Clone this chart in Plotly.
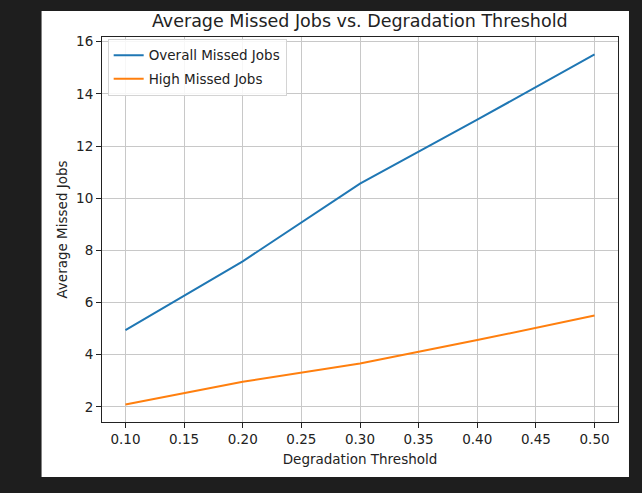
import plotly.graph_objects as go

thresholds = [0.10, 0.20, 0.30, 0.40, 0.50]
overall_missed = [4.94, 7.58, 10.56, 13.01, 15.51]
high_missed = [2.09, 2.96, 3.66, 4.56, 5.50]
x_ticks = [0.10, 0.15, 0.20, 0.25, 0.30, 0.35, 0.40, 0.45, 0.50]
x_tick_labels = ["0.10", "0.15", "0.20", "0.25", "0.30", "0.35", "0.40", "0.45", "0.50"]
y_ticks = [2, 4, 6, 8, 10, 12, 14, 16]

W, H = 642, 493
L, R, T, B = 101.5, 618, 37, 422
pw, ph = R - L, B - T

fig = go.Figure()
fig.add_trace(go.Scatter(x=thresholds, y=overall_missed, mode="lines",
                         name="Overall Missed Jobs", legendgroup="a",
                         line=dict(color="#1f77b4", width=2)))
fig.add_trace(go.Scatter(x=thresholds, y=high_missed, mode="lines",
                         name="High Missed Jobs", legendgroup="b",
                         line=dict(color="#ff7f0e", width=2)))

font = "DejaVu Sans"
fig.update_layout(
    width=W, height=H,
    margin=dict(l=L, r=W - R, t=T, b=H - B, pad=0),
    paper_bgcolor="#1e1e1e",
    plot_bgcolor="white",
    font=dict(family=font, size=13.5, color="#222222"),
    title=dict(text="Average Missed Jobs vs. Degradation Threshold",
               x=(L + R) / 2 / W, xanchor="center",
               y=1 - 21 / H, yanchor="middle",
               font=dict(family=font, size=17.5, color="#222222")),
    showlegend=True,
    legend=dict(x=0.011, y=0.995, xanchor="left", yanchor="top",
                bgcolor="rgba(255,255,255,0.85)", bordercolor="#d4d4d4",
                borderwidth=1, font=dict(family=font, size=13.5, color="#222222"),
                tracegroupgap=3, entrywidth=145),
    shapes=[dict(type="rect", xref="paper", yref="paper", layer="below",
                 x0=(41 - L) / pw, x1=(629 - L) / pw,
                 y0=(B - 477) / ph, y1=(B - 11) / ph,
                 fillcolor="white", line=dict(width=0))],
)
fig.update_xaxes(range=[0.08, 0.52], tickvals=x_ticks, ticktext=x_tick_labels,
                 showgrid=True, gridcolor="#c8c8c8", gridwidth=1,
                 showline=True, linecolor="#222222", linewidth=1, mirror=True,
                 ticks="outside", ticklen=5, tickcolor="#222222",
                 zeroline=False,
                 title=dict(text="Degradation Threshold", standoff=8,
                            font=dict(family=font, size=13.5, color="#222222")))
fig.update_yaxes(range=[1.42, 16.18], tickvals=y_ticks,
                 showgrid=True, gridcolor="#c8c8c8", gridwidth=1,
                 showline=True, linecolor="#222222", linewidth=1, mirror=True,
                 ticks="outside", ticklen=5, tickcolor="#222222",
                 zeroline=False,
                 title=dict(text="Average Missed Jobs", standoff=5,
                            font=dict(family=font, size=13.5, color="#222222")))

fig.write_html("out.html", config={"displayModeBar": False},
               post_script="document.body.style.margin='0';"
                           "document.body.style.background='#1e1e1e';")
